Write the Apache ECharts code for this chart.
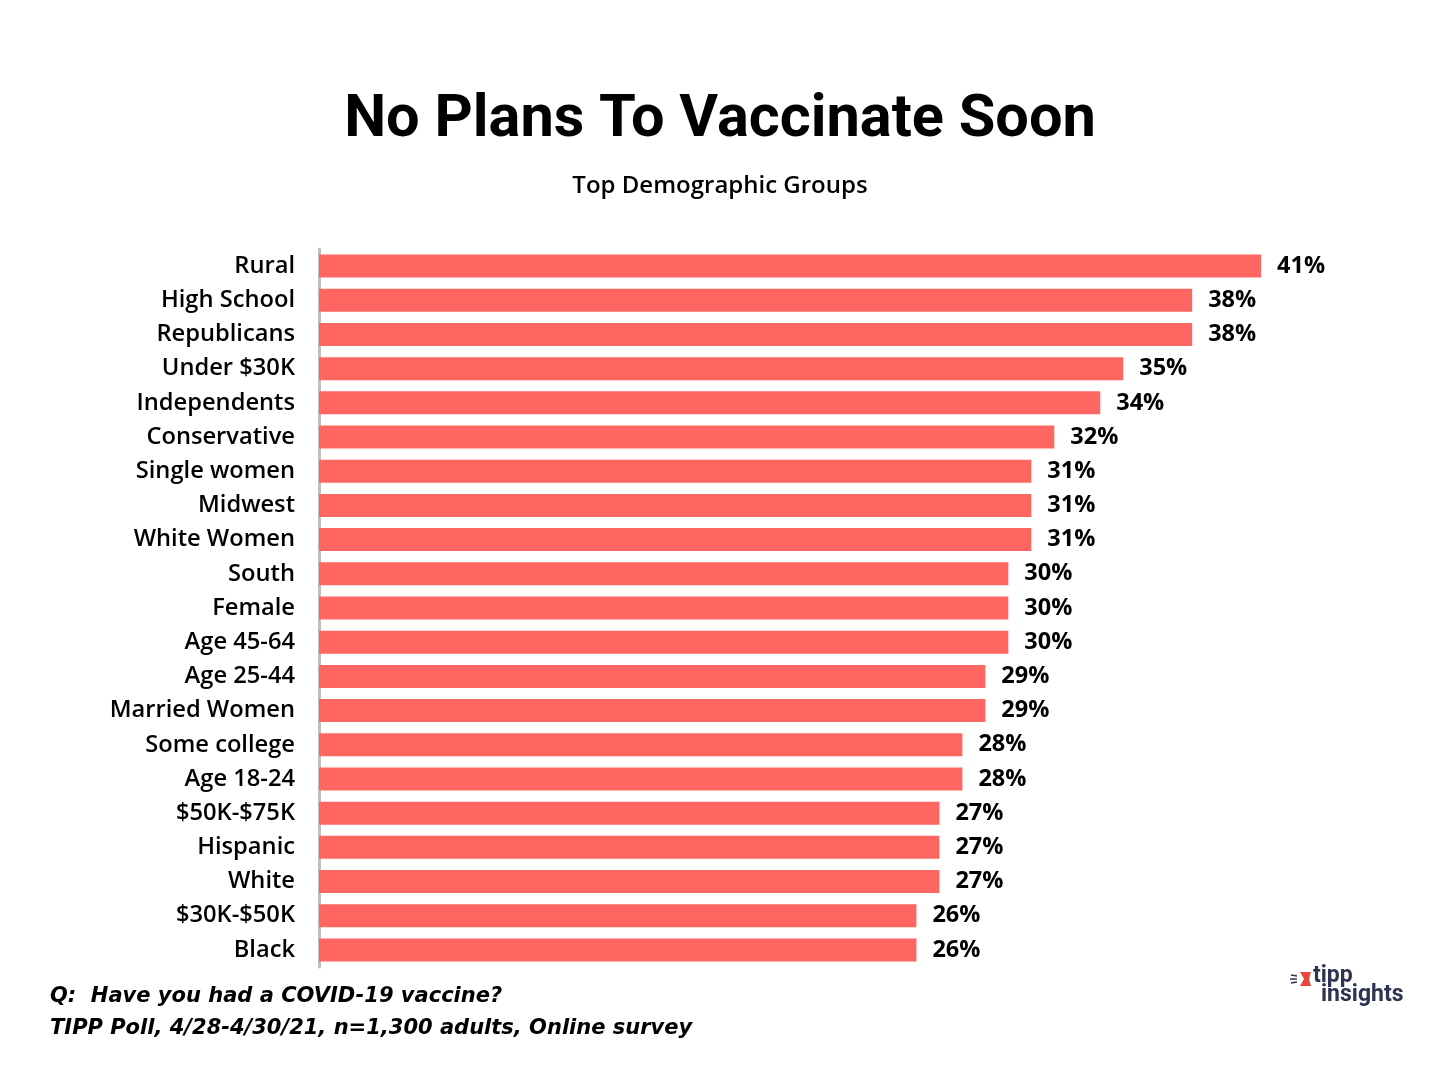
<!DOCTYPE html>
<html><head><meta charset="utf-8">
<script src="https://cdn.jsdelivr.net/npm/echarts@6/dist/echarts.min.js"></script>
<style>html,body{margin:0;padding:0;background:#fff}#c{width:1440px;height:1080px}</style>
</head><body><div id="c"></div>
<script>
const categories = ["Rural","High School","Republicans","Under $30K","Independents","Conservative","Single women","Midwest","White Women","South","Female","Age 45-64","Age 25-44","Married Women","Some college","Age 18-24","$50K-$75K","Hispanic","White","$30K-$50K","Black"];
const values = [41,38,38,35,34,32,31,31,31,30,30,30,29,29,28,28,27,27,27,26,26];
const FONT = "'Open Sans', sans-serif";
const chart = echarts.init(document.getElementById('c'), null, {renderer:'canvas'});
chart.setOption({
  backgroundColor:'#fff',
  animation:false,
  title:[
    {text:'No Plans To Vaccinate Soon', left:'center', top:86, textStyle:{fontFamily:"Roboto, sans-serif", fontSize:59.5, fontWeight:'bold', color:'#000'}},
    {text:'Top Demographic Groups', left:'center', top:169, textStyle:{fontFamily:FONT, fontSize:24, fontWeight:600, color:'#000'}}
  ],
  grid:{left:319, top:249, width:1034, height:718, containLabel:false},
  xAxis:{type:'value', min:0, max:45, show:false},
  yAxis:{type:'category', data:categories, inverse:true,
    axisLine:{show:true, lineStyle:{color:'#bfbfbf', width:3}},
    axisTick:{show:false},
    axisLabel:{fontFamily:FONT, fontSize:23.7, fontWeight:600, color:'#000', margin:24}
  },
  series:[{type:'bar', data:values, barWidth:23, itemStyle:{color:'#FF6661'},
    label:{show:true, position:'right', distance:16, formatter:'{c}%', fontFamily:FONT, fontSize:23.5, fontWeight:'bold', color:'#000'}
  }],
  graphic:[
    {type:'text', left:50, top:986, style:{text:'Q:  Have you had a COVID-19 vaccine?', font:"italic bold 21px 'DejaVu Sans', sans-serif", fill:'#000'}},
    {type:'text', left:50, top:1018, style:{text:'TIPP Poll, 4/28-4/30/21, n=1,300 adults, Online survey', font:"italic bold 21px 'DejaVu Sans', sans-serif", fill:'#000'}},
    {type:'polygon', shape:{points:[[1300,972],[1311,972],[1309,979],[1311,986],[1300,986],[1304,979]]}, style:{fill:'#E8453C'}},
    {type:'line', shape:{x1:1291,y1:975,x2:1297,y2:976}, style:{stroke:'#2F3352', lineWidth:1.5}},
    {type:'line', shape:{x1:1290,y1:979,x2:1297,y2:979}, style:{stroke:'#2F3352', lineWidth:1.5}},
    {type:'line', shape:{x1:1291,y1:983,x2:1297,y2:982}, style:{stroke:'#2F3352', lineWidth:1.5}},
    {type:'text', left:1313, top:965, style:{text:'tipp', font:"bold 23px Roboto, sans-serif", fill:'#2F3352'}},
    {type:'text', left:1321, top:984, style:{text:'insights', font:"bold 23px Roboto, sans-serif", fill:'#2F3352'}}
  ]
});
</script></body></html>
